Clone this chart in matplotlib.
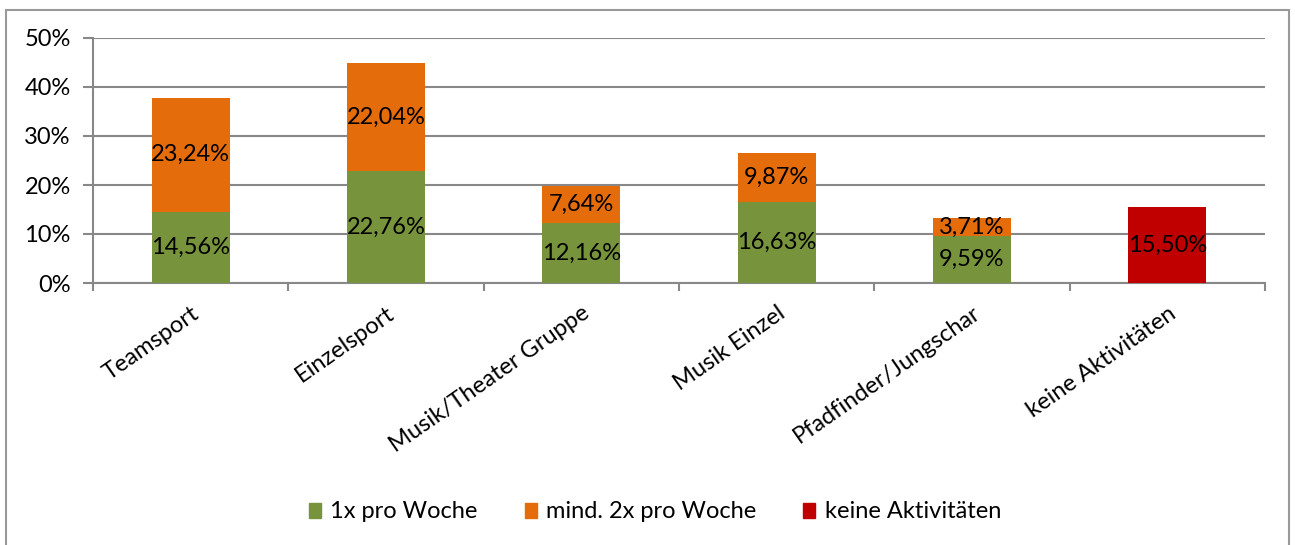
import matplotlib
matplotlib.use("Agg")
import matplotlib.pyplot as plt
from matplotlib.patches import Rectangle
import numpy as np

categories = ["Teamsport", "Einzelsport", "Musik/Theater Gruppe", "Musik Einzel",
              "Pfadfinder/Jungschar", "keine Aktivitäten"]
einmal = [14.56, 22.76, 12.16, 16.63, 9.59, 0.0]
zweimal = [23.24, 22.04, 7.64, 9.87, 3.71, 0.0]
keine = [0.0, 0.0, 0.0, 0.0, 0.0, 15.50]
series_names = ["1x pro Woche", "mind. 2x pro Woche", "keine Aktivitäten"]
yticks = [0, 10, 20, 30, 40, 50]

colors = ["#77933C", "#E46C0A", "#C00000"]
grid_c = "#888888"

plt.rcParams['font.family'] = ['Lato', 'DejaVu Sans']
fs = 17

fig = plt.figure(figsize=(12.95, 5.45), dpi=100)
ax = fig.add_axes([93/1295, 1-283/545, (1265-93)/1295, (283-38)/545])

x = np.arange(len(categories))
w = 0.4
bottoms = np.zeros(len(categories))
for vals, col in zip([einmal, zweimal, keine], colors):
    vals = np.array(vals)
    ax.bar(x, vals, w, bottom=bottoms, color=col, zorder=3)
    for xi, v, b in zip(x, vals, bottoms):
        if v > 0:
            ax.text(xi, b + v/2, f"{v:.2f}%".replace(".", ","), ha="center", va="center",
                    fontsize=fs, color="black", zorder=4)
    bottoms = bottoms + vals

ax.set_xlim(-0.5, len(categories) - 0.5)
ax.set_ylim(0, 50)
ax.set_yticks(yticks)
ax.set_yticklabels([f"{t}%" for t in yticks], fontsize=fs)
ax.yaxis.grid(True, color=grid_c, linewidth=1.5, zorder=0)
ax.set_axisbelow(True)

ax.set_xticks(x)
ax.set_xticklabels(categories, rotation=35, ha="right", rotation_mode="anchor", fontsize=fs)
ax.tick_params(axis="x", which="major", length=0, pad=14)
ax.set_xticks(np.arange(-0.5, len(categories)), minor=True)
ax.tick_params(axis="x", which="minor", length=6, width=1.5, color=grid_c, direction="out")
ax.tick_params(axis="y", length=7, width=1.5, color=grid_c, pad=9)

for s in ["top", "right"]:
    ax.spines[s].set_visible(False)
for s in ["left", "bottom"]:
    ax.spines[s].set_color(grid_c)
    ax.spines[s].set_linewidth(1.5)

handles = [Rectangle((0, 0), 1, 1, color=c) for c in colors]
fig.legend(handles, series_names, loc="center", bbox_to_anchor=(655/1295, 1-512/545),
           ncol=3, frameon=False, fontsize=fs, handlelength=0.5, handleheight=0.6,
           handletextpad=0.4, columnspacing=2.0)

fig.patches.append(Rectangle((6/1295, -0.01), (1289-6)/1295, 1.01 - 10/545,
                             transform=fig.transFigure, fill=False, edgecolor="#999999",
                             linewidth=1.5))

fig.savefig("out.png", dpi=100)
